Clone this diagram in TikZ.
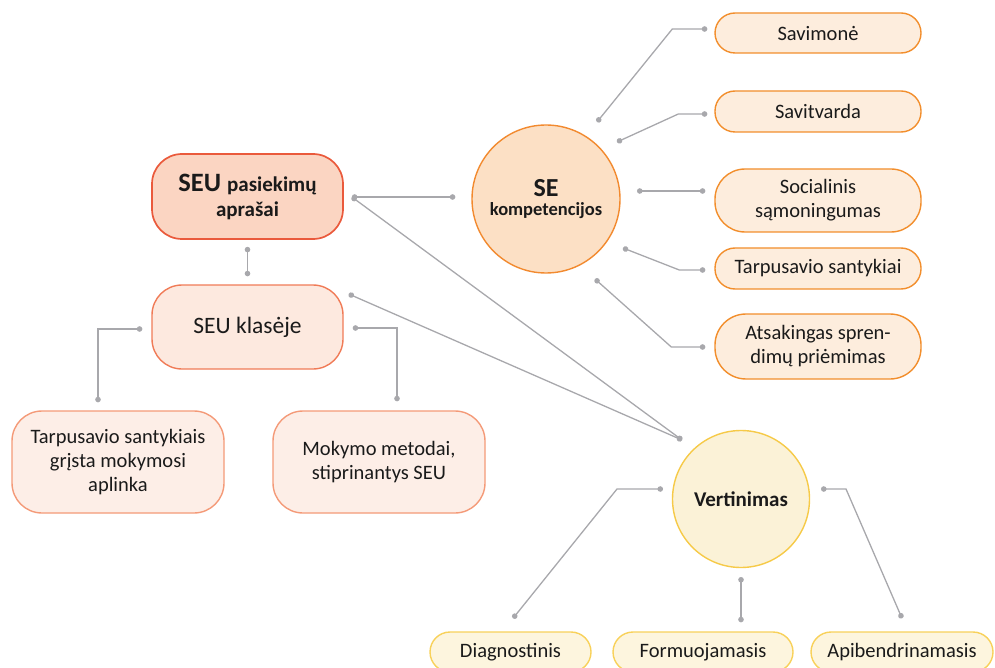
\documentclass[tikz,border=0pt]{standalone}
\usepackage{fontspec}
\setmainfont{Carlito}
\usetikzlibrary{calc,arrows.meta}
\definecolor{paFill}{HTML}{FBD5C2}
\definecolor{paDraw}{HTML}{EA5A3C}
\definecolor{klFill}{HTML}{FDE9DF}
\definecolor{klDraw}{HTML}{F07B57}
\definecolor{lbFill}{HTML}{FDEEE7}
\definecolor{lbDraw}{HTML}{F49A78}
\definecolor{seFill}{HTML}{FCE0C5}
\definecolor{seDraw}{HTML}{F28A2F}
\definecolor{rbFill}{HTML}{FDEDDD}
\definecolor{rbDraw}{HTML}{F28E2C}
\definecolor{veFill}{HTML}{FBF2D7}
\definecolor{veDraw}{HTML}{F6CA48}
\definecolor{bbFill}{HTML}{FDF5DE}
\definecolor{bbDraw}{HTML}{F8D15A}
\definecolor{lineGray}{HTML}{A8A8AC}
\definecolor{txt}{HTML}{1A1A1A}
\begin{document}
\begin{tikzpicture}[x=1pt,y=-1pt,
  box/.style={draw, line width=1.4pt, align=center, inner sep=0pt, text=txt,
    font=\fontsize{20.5}{24}\selectfont},
  pabox/.style={box, fill=paFill, draw=paDraw, line width=1.7pt, rounded corners=30pt,
    minimum width=191pt, minimum height=85pt},
  klbox/.style={box, fill=klFill, draw=klDraw, rounded corners=30pt,
    minimum width=191pt, minimum height=84pt, font=\fontsize{23.5}{27}\selectfont},
  lbbox/.style={box, fill=lbFill, draw=lbDraw, rounded corners=30pt,
    minimum width=212pt, minimum height=102pt},
  rbbox/.style={box, fill=rbFill, draw=rbDraw, minimum width=206pt},
  bbbox/.style={box, fill=bbFill, draw=bbDraw, rounded corners=20pt, minimum height=40pt},
  circ/.style={circle, draw, line width=1.4pt, align=center, inner sep=0pt, text=txt},
  conn/.style={draw=lineGray, line width=1.3pt,
    {Circle[length=5.5pt]}-{Circle[length=5.5pt]}}
]
\useasboundingbox (0,0) rectangle (995,668);

% left part
\node[pabox] (pa) at (247.5,196.5)
  {\bfseries\fontsize{26.5}{27}\selectfont SEU \fontsize{21}{27}\selectfont pasiekimų\\[1pt]
   \bfseries\fontsize{21}{27}\selectfont aprašai};
\node[klbox] (kl) at (247.5,327) {SEU klasėje};
\node[lbbox] (tg) at (118,462) {Tarpusavio santykiais\\grįsta mokymosi\\aplinka};
\node[lbbox] (mm) at (379,462) {Mokymo metodai,\\stiprinantys SEU};

% SE circle
\node[circ, fill=seFill, draw=seDraw, minimum size=148pt] (se) at (546,199)
  {\bfseries\fontsize{26}{26}\selectfont SE\\[5pt]\bfseries\fontsize{18.5}{21}\selectfont kompetencijos};

% right boxes
\node[rbbox, rounded corners=20pt, minimum height=40pt] (s1) at (818,33) {Savimonė};
\node[rbbox, rounded corners=20pt, minimum height=41pt] (s2) at (818,111.5) {Savitvarda};
\node[rbbox, rounded corners=30pt, minimum height=63pt] (s3) at (818,200.5) {Socialinis\\sąmoningumas};
\node[rbbox, rounded corners=20pt, minimum height=41pt] (s4) at (818,268.5) {Tarpusavio santykiai};
\node[rbbox, rounded corners=31pt, minimum height=65pt] (s5) at (818,346.5) {Atsakingas spren-\\dimų priėmimas};

% Vertinimas
\node[circ, fill=veFill, draw=veDraw, minimum size=137pt, font=\bfseries\fontsize{21}{24}\selectfont] (ve) at (741,499) {Vertinimas};

% bottom boxes
\node[bbbox, minimum width=161pt] (d1) at (510.5,652) {Diagnostinis};
\node[bbbox, minimum width=180pt] (d2) at (703,652) {Formuojamasis};
\node[bbbox, minimum width=182pt] (d3) at (902,652) {Apibendrinamasis};

% connectors
\draw[conn] ($(pa.east)+(8,0.5)$) -- ($(se.west)+(-16,-2)$);
\draw[conn] ($(pa.east)+(8,0.5)$) -- ($(ve.center)+(-59,-59)$);
\draw[conn] ($(kl.east)+(5,-33)$) -- ($(ve.center)+(-59,-59)$);
\draw[conn] ($(pa.south)+(0,7)$) -- ($(kl.north)+(0,-8)$);
\draw[conn] ($(kl.west)+(-9,2)$) -| ($(tg.north)+(-20,-8)$);
\draw[conn] ($(kl.east)+(9,1)$) -| ($(mm.north)+(18,-9)$);

\draw[conn] ($(se.center)+(51,-77)$) -- ($(s1.west)+(-42,-4)$) -- ($(s1.west)+(-7,-4)$);
\draw[conn] ($(se.center)+(71,-57)$) -- ($(s2.west)+(-36,2.5)$) -- ($(s2.west)+(-7,2.5)$);
\draw[conn] ($(se.center)+(91,-8)$) -- ($(s3.west)+(-9,-9.5)$);
\draw[conn] ($(se.center)+(77,49)$) -- ($(s4.west)+(-35,1.5)$) -- ($(s4.west)+(-9,1.5)$);
\draw[conn] ($(se.center)+(49,80)$) -- ($(s5.west)+(-43,0.5)$) -- ($(s5.west)+(-9,0.5)$);

\draw[conn] ($(ve.center)+(-78,-10)$) -- ($(ve.center)+(-124,-10)$) -- ($(d1.north)+(2.5,-13)$);
\draw[conn] ($(ve.center)+(0,78)$) -- ($(d2.north)+(38,-9)$);
\draw[conn] ($(ve.center)+(80,-10)$) -- ($(ve.center)+(105,-10)$) -- ($(d3.north)+(0,-13)$);
\end{tikzpicture}
\end{document}
